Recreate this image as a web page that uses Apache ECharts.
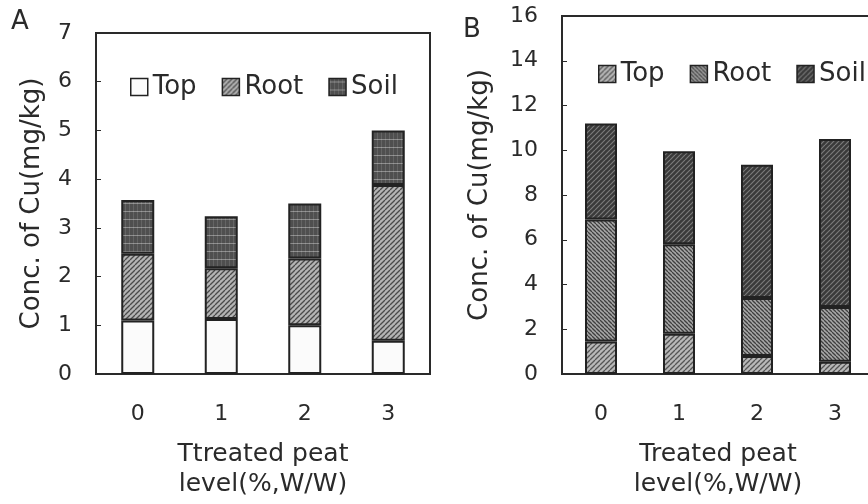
<!DOCTYPE html>
<html>
<head>
<meta charset="utf-8">
<script src="https://cdn.jsdelivr.net/npm/echarts@6/dist/echarts.min.js"></script>
<style>
  html, body { margin: 0; padding: 0; overflow: hidden; background: #fff; }
  #chartA { position: absolute; left: 0; top: 0; width: 440px; height: 504px; }
  #chartB { position: absolute; left: 440px; top: 0; width: 440px; height: 504px; }
</style>
</head>
<body>
<div id="chartA"></div>
<div id="chartB"></div>
<script>
  // data
  const categories = ['0', '1', '2', '3'];
  const seriesNames = ['Top', 'Root', 'Soil'];
  // panel A
  const topA = [1.1, 1.13, 1.0, 0.68];
  const rootA = [1.37, 1.04, 1.37, 3.2];
  const soilA = [1.1, 1.07, 1.13, 1.12];
  // panel B
  const topB = [1.45, 1.8, 0.8, 0.55];
  const rootB = [5.45, 4.0, 2.6, 2.45];
  const soilB = [4.3, 4.15, 5.95, 7.5];

  const FONT = 'DejaVu Sans';
  const INK = '#2a2a2a';

  // small canvas tiles to imitate the printed hatching
  function hatch(bg, fg, dir, step, lw) {
    let c = document.createElement('canvas');
    c.width = step; c.height = step;
    let ctx = c.getContext('2d');
    ctx.fillStyle = bg;
    ctx.fillRect(0, 0, step, step);
    ctx.strokeStyle = fg;
    ctx.lineWidth = lw;
    for (let x0 = -step; x0 <= step; x0 += step) {
      ctx.beginPath();
      if (dir == '/') {
        ctx.moveTo(x0, step); ctx.lineTo(x0 + step, 0);
      } else {
        ctx.moveTo(x0, 0); ctx.lineTo(x0 + step, step);
      }
      ctx.stroke();
    }
    return { image: c, repeat: 'repeat' };
  }

  function grid8(bg, fg) {
    let c = document.createElement('canvas');
    c.width = 4; c.height = 8;
    let ctx = c.getContext('2d');
    ctx.fillStyle = bg;
    ctx.fillRect(0, 0, 4, 8);
    ctx.fillStyle = fg;
    ctx.fillRect(0, 3, 4, 1);
    ctx.fillStyle = 'rgba(255,255,255,0.12)';
    ctx.fillRect(1, 0, 1, 8);
    return { image: c, repeat: 'repeat' };
  }

  function makeOption(cfg) {
    return {
      animation: false,
      title: {
        text: cfg.label,
        left: cfg.labelLeft,
        top: cfg.labelTop,
        textStyle: { fontFamily: FONT, fontSize: 26, fontWeight: 'normal', color: INK }
      },
      legend: {
        data: seriesNames,
        left: cfg.legendLeft,
        top: cfg.legendTop,
        icon: 'rect',
        itemWidth: 17,
        itemHeight: 17,
        itemGap: 25,
        itemStyle: { borderColor: '#222', borderWidth: 1.5 },
        textStyle: { fontFamily: FONT, fontSize: 26, color: INK }
      },
      grid: {
        left: cfg.gridLeft,
        top: cfg.gridTop,
        width: cfg.gridWidth,
        height: cfg.gridHeight,
        show: true,
        borderColor: INK,
        borderWidth: 2,
        containLabel: false
      },
      xAxis: {
        type: 'category',
        data: categories,
        name: cfg.xName,
        nameLocation: 'middle',
        nameGap: 65,
        nameTextStyle: { fontFamily: FONT, fontSize: 25, color: INK, lineHeight: 30 },
        axisLine: { lineStyle: { color: INK, width: 2 } },
        axisTick: { inside: true, length: 5, lineStyle: { color: INK, width: 1 } },
        axisLabel: { fontFamily: FONT, fontSize: 22, color: INK, margin: 29 }
      },
      yAxis: {
        type: 'value',
        min: 0,
        max: cfg.yMax,
        interval: cfg.yStep,
        name: 'Conc. of Cu(mg/kg)',
        nameLocation: 'middle',
        nameGap: cfg.yNameGap,
        nameTextStyle: { fontFamily: FONT, fontSize: 26, color: INK },
        splitLine: { show: false },
        axisLine: { show: true, lineStyle: { color: INK, width: 2 } },
        axisTick: { show: true, inside: true, length: 5, lineStyle: { color: INK, width: 1 } },
        axisLabel: { fontFamily: FONT, fontSize: 22, color: INK, margin: 24 }
      },
      series: cfg.values.map(function (vals, i) {
        return {
          name: seriesNames[i],
          type: 'bar',
          stack: 'total',
          barWidth: cfg.barWidth,
          data: vals,
          itemStyle: { color: cfg.fills[i], borderColor: '#222', borderWidth: 2 }
        };
      })
    };
  }

  let chartA = echarts.init(document.getElementById('chartA'));
  chartA.setOption(makeOption({
    label: 'A', labelLeft: 6, labelTop: 4,
    legendLeft: 125, legendTop: 69,
    gridLeft: 96, gridTop: 33, gridWidth: 334, gridHeight: 344,
    xName: 'Ttreated peat\nlevel(%,W/W)',
    yMax: 7, yStep: 1, yNameGap: 51,
    barWidth: 33,
    values: [topA, rootA, soilA],
    fills: [
      '#fbfbfb',
      hatch('#b4b4b4', '#4a4a4a', '/', 5, 1.3),
      grid8('#4f4f4f', '#8c8c8c')
    ]
  }));

  let chartB = echarts.init(document.getElementById('chartB'));
  chartB.setOption(makeOption({
    label: 'B', labelLeft: 18, labelTop: 12,
    legendLeft: 153, legendTop: 56,
    gridLeft: 122, gridTop: 16, gridWidth: 312, gridHeight: 362,
    xName: 'Treated peat\nlevel(%,W/W)',
    yMax: 16, yStep: 2, yNameGap: 69,
    barWidth: 32,
    values: [topB, rootB, soilB],
    fills: [
      hatch('#b8b8b8', '#555555', '/', 5, 1.3),
      hatch('#a8a8a8', '#3f3f3f', '\\', 4, 1.3),
      hatch('#3a3a3a', '#7a7a7a', '/', 5, 1.2)
    ]
  }));
</script>
</body>
</html>
